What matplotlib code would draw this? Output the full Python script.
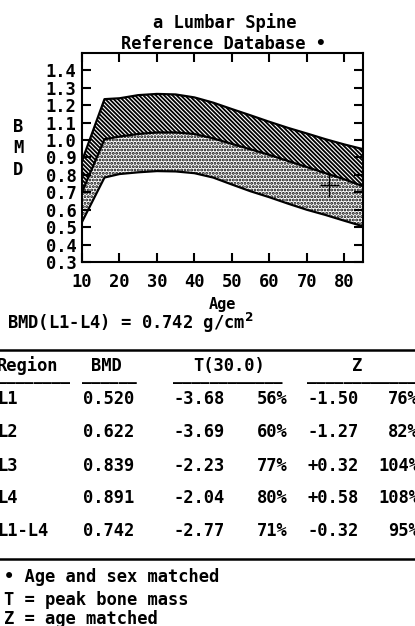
import matplotlib
matplotlib.use("Agg")
import matplotlib.pyplot as plt

# reference curves (BMD vs age)
age = [10, 16, 20, 25, 30, 35, 40, 45, 50, 55, 60, 65, 70, 75, 80, 85]
upper = [0.88, 1.235, 1.24, 1.258, 1.265, 1.262, 1.245, 1.215, 1.178, 1.142,
         1.105, 1.07, 1.038, 1.005, 0.975, 0.948]
middle = [0.70, 1.005, 1.02, 1.035, 1.044, 1.044, 1.035, 1.01, 0.978, 0.947,
          0.915, 0.88, 0.845, 0.81, 0.775, 0.735]
lower = [0.53, 0.785, 0.805, 0.815, 0.822, 0.82, 0.81, 0.785, 0.745, 0.706,
         0.672, 0.635, 0.60, 0.57, 0.537, 0.505]

patient_age = 76
patient_bmd = 0.742

x_ticks = [10, 20, 30, 40, 50, 60, 70, 80]
y_ticks = [0.3, 0.4, 0.5, 0.6, 0.7, 0.8, 0.9, 1.0, 1.1, 1.2, 1.3, 1.4]

# results table
regions = ["L1", "L2", "L3", "L4", "L1-L4"]
bmd = [0.520, 0.622, 0.839, 0.891, 0.742]
t_score = [-3.68, -3.69, -2.23, -2.04, -2.77]
t_pct = [56, 60, 77, 80, 71]
z_score = [-1.50, -1.27, 0.32, 0.58, -0.32]
z_pct = [76, 82, 104, 108, 95]

plt.rcParams.update({"font.family": "DejaVu Sans Mono", "font.weight": "bold",
                     "font.size": 12.3, "hatch.linewidth": 0.8})

W, H = 415, 626
fig = plt.figure(figsize=(W / 100, H / 100), dpi=100)

# overlay in pixel coords for all the report text
txt = fig.add_axes([0, 0, 1, 1])
txt.set_xlim(0, W)
txt.set_ylim(H, 0)
txt.axis("off")

ax = fig.add_axes([82 / W, 1 - 262 / H, 281 / W, 209 / H])

# ── bands ──
dark = ax.fill_between(age, middle, upper, facecolor="black", edgecolor="white",
                       hatch="\\" * 8, linewidth=0)
dots = ax.fill_between(age, lower, middle, facecolor="white", edgecolor="black",
                       hatch=".....", linewidth=0)
if hasattr(dots, "set_hatch_linewidth"):
    dark.set_hatch_linewidth(0.8)
    dots.set_hatch_linewidth(1.4)
for curve in (upper, middle, lower):
    ax.plot(age, curve, color="black", lw=1.6)

ax.errorbar([patient_age], [patient_bmd], xerr=2.5, yerr=0.068,
            color="black", lw=1.0, capsize=0, fmt="none")

ax.set_xlim(10, 85)
ax.set_ylim(0.3, 1.5)
ax.set_xticks(x_ticks)
ax.set_yticks(y_ticks)
ax.set_yticklabels([f"{v:.1f}" for v in y_ticks])
ax.tick_params(direction="in", length=6.5, width=1.5, top=True, right=True,
               labelsize=12.3)
ax.tick_params(axis="x", pad=8)
ax.tick_params(axis="y", pad=4)
for s in ax.spines.values():
    s.set_linewidth(1.5)

# ── titles / axis labels ──
txt.text(225, 23, "a Lumbar Spine", ha="center", va="center")
txt.text(223, 44, "Reference Database •", ha="center", va="center")
for lbl, yy in zip("BMD", [127, 148, 170]):
    txt.text(18, yy, lbl, ha="center", va="center")
txt.text(222, 305, "Age", ha="center", va="center", fontsize=11)
txt.text(7, 323, "BMD(L1-L4) = 0.742 g/cm$^{\\mathbf{2}}$", ha="left", va="center")

# ── table ──
txt.plot([0, W], [350, 350], color="black", lw=1.8)
txt.plot([0, W], [559, 559], color="black", lw=1.8)

hy = 366
txt.text(-3, hy, "Region", ha="left", va="center")
txt.text(106, hy, "BMD", ha="center", va="center")
txt.text(229, hy, "T(30.0)", ha="center", va="center")
txt.text(357, hy, "Z", ha="center", va="center")
dy = 382
dash_kw = dict(ha="left", va="center", fontsize=11)
txt.text(-3, dy, "–" * 8, **dash_kw)
txt.text(82, dy, "–" * 6, **dash_kw)
txt.text(173, dy, "–" * 12, **dash_kw)
txt.text(307, dy, "–" * 12, **dash_kw)

row_y = [399, 432, 466, 498, 531]
for r, b, t, tp, z, zp, yy in zip(regions, bmd, t_score, t_pct, z_score, z_pct, row_y):
    txt.text(-3, yy, r, ha="left", va="center")
    txt.text(83, yy, f"{b:.3f}", ha="left", va="center")
    txt.text(173, yy, f"{t:.2f}", ha="left", va="center")
    txt.text(288, yy, f"{tp}%", ha="right", va="center")
    txt.text(307, yy, f"{z:+.2f}", ha="left", va="center")
    txt.text(419, yy, f"{zp}%", ha="right", va="center")

# ── footnotes ──
txt.text(4, 577, "• Age and sex matched", ha="left", va="center")
txt.text(4, 600, "T = peak bone mass", ha="left", va="center")
txt.text(4, 619, "Z = age matched", ha="left", va="center")

fig.savefig("out.png", dpi=100)
